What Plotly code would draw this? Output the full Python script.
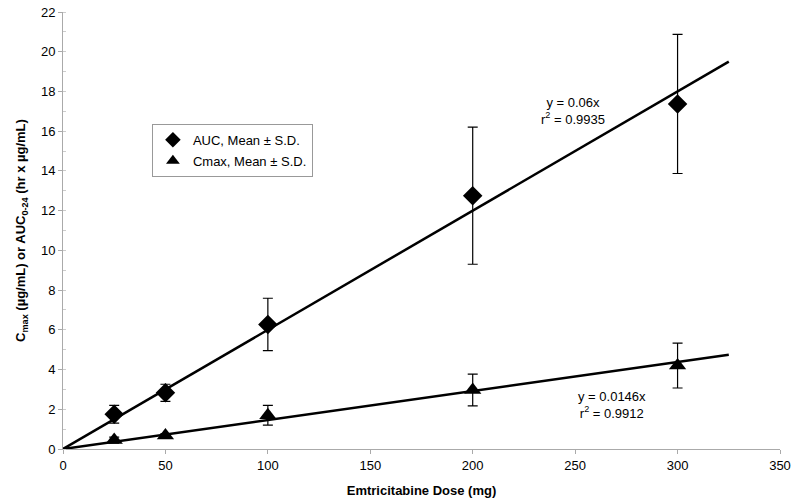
import plotly.graph_objects as go

dose = [25, 50, 100, 200, 300]
auc_mean = [1.75, 2.83, 6.27, 12.75, 17.37]
auc_sd = [0.45, 0.43, 1.32, 3.45, 3.5]
cmax_mean = [0.45, 0.68, 1.7, 2.97, 4.2]
cmax_sd = [0.15, 0.1, 0.5, 0.8, 1.13]

fit_x = [0, 325]
auc_fit_y = [0, 19.5]
cmax_fit_y = [0, 4.745]

x_ticks = [0, 50, 100, 150, 200, 250, 300, 350]
y_ticks = [0, 2, 4, 6, 8, 10, 12, 14, 16, 18, 20, 22]

FAM = "Liberation Sans, Arial, sans-serif"
font = dict(family=FAM, size=13, color="black")

fig = go.Figure()
fig.add_trace(go.Scatter(x=fit_x, y=auc_fit_y, mode="lines",
                         line=dict(color="black", width=2.5), showlegend=False, hoverinfo="skip"))
fig.add_trace(go.Scatter(x=fit_x, y=cmax_fit_y, mode="lines",
                         line=dict(color="black", width=2.5), showlegend=False, hoverinfo="skip"))
fig.add_trace(go.Scatter(x=dose, y=auc_mean, mode="markers", name="AUC, Mean ± S.D.",
                         legendgroup="a",
                         marker=dict(symbol="diamond", size=15, color="black"),
                         error_y=dict(type="data", array=auc_sd, color="black", thickness=1.2, width=5)))
fig.add_trace(go.Scatter(x=dose, y=cmax_mean, mode="markers", name="Cmax, Mean ± S.D.",
                         legendgroup="b",
                         marker=dict(symbol="triangle-up", size=15, color="black"),
                         error_y=dict(type="data", array=cmax_sd, color="black", thickness=1.2, width=5)))

fig.add_annotation(x=249, y=17.0, xref="x", yref="y", text="y = 0.06x<br>r<sup>2</sup> = 0.9935",
                   showarrow=False, font=font, align="center")
fig.add_annotation(x=268, y=2.2, xref="x", yref="y", text="y = 0.0146x<br>r<sup>2</sup> = 0.9912",
                   showarrow=False, font=font, align="center")

fig.update_layout(
    width=800, height=501,
    margin=dict(l=63, r=20, t=12, b=52),
    paper_bgcolor="white", plot_bgcolor="white",
    font=font,
    legend=dict(x=0.124, y=0.744, xanchor="left", yanchor="top",
                bordercolor="#999999", borderwidth=1, bgcolor="white",
                font=font, itemsizing="constant", tracegroupgap=1,
                entrywidth=120),
    xaxis=dict(range=[0, 350], tickvals=x_ticks, showgrid=False, zeroline=False,
               showline=True, linecolor="#aaaaaa", linewidth=1, automargin=False,
               ticks="outside", ticklen=4, tickcolor="#aaaaaa",
               title=dict(text="<b>Emtricitabine Dose (mg)</b>", standoff=14, font=font)),
    yaxis=dict(range=[0, 22], tickvals=y_ticks, showgrid=False, zeroline=False,
               showline=True, linecolor="#aaaaaa", linewidth=1, automargin=False,
               ticks="outside", ticklen=4, tickcolor="#aaaaaa",
               minor=dict(dtick=1, ticks="inside", ticklen=3, tickcolor="#cccccc"),
               title=dict(text="<b>C<sub>max</sub> (µg/mL) or AUC<sub>0-24</sub> (hr x µg/mL)</b>",
                          standoff=12, font=font)),
)

fig.write_html("out.html", post_script="document.body.style.margin='0';",
               config={"displayModeBar": False})
